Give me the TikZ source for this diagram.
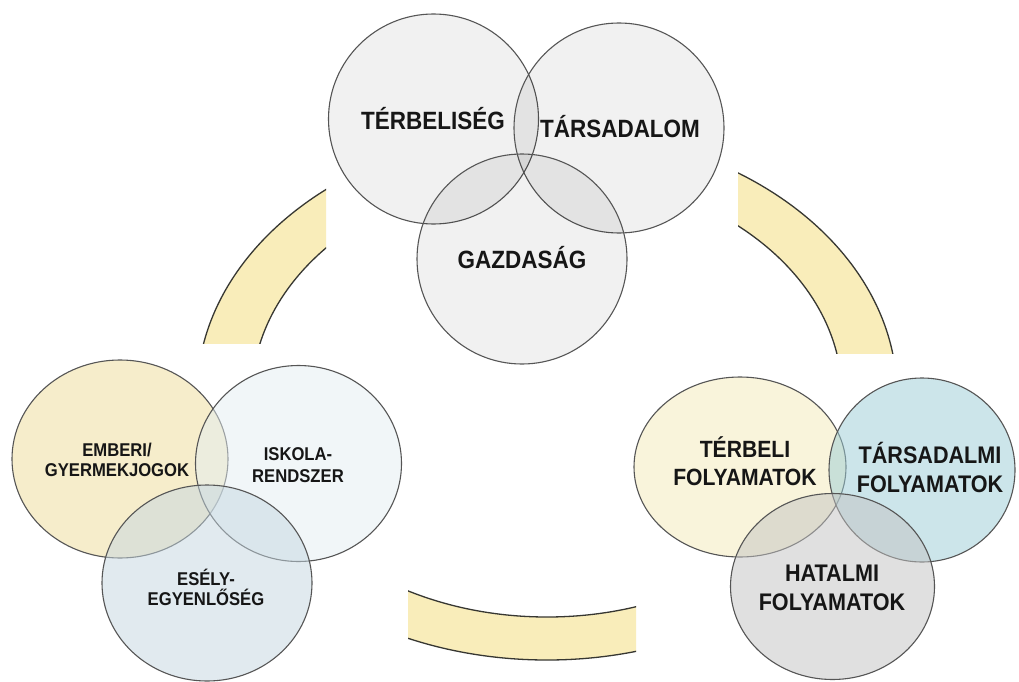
\documentclass[tikz,border=0pt]{standalone}
\usepackage{fontspec}
\setmainfont{Liberation Sans}[FakeStretch=0.9]
\definecolor{ringyellow}{RGB}{249,237,186}
\definecolor{ringedge}{RGB}{55,55,50}
\definecolor{vennedge}{RGB}{85,85,85}
\definecolor{txt}{RGB}{22,22,22}
\definecolor{embercol}{RGB}{238,220,152}
\definecolor{iskolacol}{RGB}{228,238,242}
\definecolor{eselycol}{RGB}{197,215,225}
\definecolor{terbcol}{RGB}{245,235,185}
\definecolor{tarscol}{RGB}{155,205,215}
\definecolor{hatcol}{RGB}{195,195,195}
\begin{document}
\begin{tikzpicture}[x=1pt,y=-1pt,
  ringline/.style={draw=ringedge,line width=1.3pt},
  venn/.style={draw=vennedge,line width=1.1pt,fill opacity=0.5},
  topvenn/.style={draw=vennedge,line width=1.1pt,fill=black,fill opacity=0.055},
  lbl/.style={text=txt,inner sep=0pt,align=center,anchor=base},
  bigfont/.style={font=\bfseries\fontsize{25}{28}\selectfont},
  smallfont/.style={font=\bfseries\fontsize{18.5}{20}\selectfont},
  midfont/.style={font=\bfseries\fontsize{24}{28.5}\selectfont},
]
\path[use as bounding box, fill=white] (0,0) rectangle (1019,682);

% the linking ring, visible only in three arcs
\foreach \xa/\ya/\xb/\yb in {0/0/326/343, 738/0/1019/353, 408/500/636/682}{
  \begin{scope}
    \clip (\xa,\ya) rectangle (\xb,\yb);
    \fill[ringyellow, even odd rule]
      (547,395) ellipse [x radius=350, y radius=265]
      (547,395) ellipse [x radius=295, y radius=222];
    \draw[ringline] (547,395) ellipse [x radius=350, y radius=265];
    \draw[ringline] (547,395) ellipse [x radius=295, y radius=222];
  \end{scope}
}

% top group
\path[topvenn] (433.5,119) circle [radius=105];
\path[topvenn] (619,128) circle [radius=105];
\path[topvenn] (522,259) circle [radius=105];

% left group
\path[venn, fill=embercol] (120,459) ellipse [x radius=108, y radius=99];
\path[venn, fill=iskolacol] (298.5,463.5) ellipse [x radius=103, y radius=98];
\path[venn, fill=eselycol] (207,583) ellipse [x radius=105, y radius=98];

% right group
\path[venn, fill=terbcol] (740,467) ellipse [x radius=106, y radius=90];
\path[venn, fill=tarscol] (922,470) ellipse [x radius=93, y radius=92];
\path[venn, fill=hatcol] (832.5,586.5) ellipse [x radius=102, y radius=93];

% labels (anchor base = baseline of the last line)
\node[lbl, bigfont] (terbeliseg) at (433,129.5) {TÉRBELISÉG};
\node[lbl, bigfont] (tarsadalom) at (620,137.5) {TÁRSADALOM};
\node[lbl, bigfont] (gazdasag) at (522,268) {GAZDASÁG};

\node[lbl, smallfont] (emberi) at (117,476.7) {EMBERI/\\GYERMEKJOGOK};
\node[lbl, font=\bfseries\fontsize{18.5}{21.5}\selectfont] (iskola) at (298,482) {ISKOLA-\\RENDSZER};
\node[lbl, smallfont] (esely) at (206,605) {ESÉLY-\\EGYENLŐSÉG};

\node[lbl, font=\bfseries\fontsize{23.5}{28}\selectfont] (terbeli) at (745,485) {TÉRBELI\\FOLYAMATOK};
\node[lbl, midfont] (tarsadalmi) at (930,492) {TÁRSADALMI\\FOLYAMATOK};
\node[lbl, midfont] (hatalmi) at (832,610) {HATALMI\\FOLYAMATOK};
\end{tikzpicture}
\end{document}
